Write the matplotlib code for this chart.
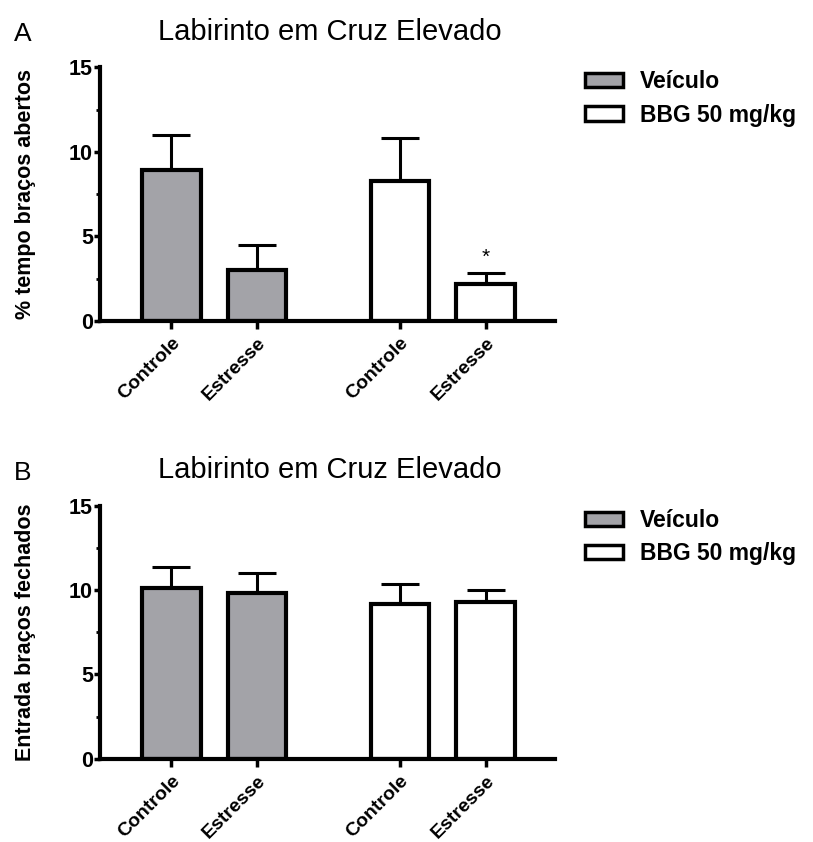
import numpy as np
import matplotlib
matplotlib.use('Agg')
import matplotlib.pyplot as plt
from matplotlib.patches import Patch
from matplotlib.ticker import MultipleLocator

plt.rcParams['font.family'] = ['Liberation Sans', 'DejaVu Sans']

grupos = ['Controle', 'Estresse', 'Controle', 'Estresse']
tratamentos = ['Veículo', 'BBG 50 mg/kg']

# painel A: % tempo bracos abertos
tempo_media = [8.9, 3.0, 8.3, 2.2]
tempo_erro = [2.1, 1.5, 2.5, 0.6]
# painel B: entrada bracos fechados
entrada_media = [10.15, 9.85, 9.2, 9.3]
entrada_erro = [1.25, 1.2, 1.2, 0.7]

pos = [0, 1, 2.66, 3.66]
cores = ['#a3a3a8', '#a3a3a8', 'white', 'white']

fig = plt.figure(figsize=(8.13, 8.42), dpi=100)
axA = fig.add_axes([0.123, 0.619, 0.560, 0.301])
axB = fig.add_axes([0.123, 0.099, 0.560, 0.300])

def painel(ax, media, erro, ylabel, letra):
    ax.bar(pos, media, width=0.68, color=cores, edgecolor='black', linewidth=3, zorder=2)
    ax.errorbar(pos, media, yerr=[np.zeros(4), erro], fmt='none', ecolor='black',
                elinewidth=2.2, capsize=14, capthick=2.2, zorder=1)
    ax.set_xlim(-0.83, 4.47)
    ax.set_ylim(0, 15)
    ax.set_yticks([0, 5, 10, 15])
    ax.yaxis.set_minor_locator(MultipleLocator(2.5))
    ax.set_xticks(pos)
    ax.set_xticklabels(grupos, rotation=45, ha='right', rotation_mode='anchor',
                       fontsize=14, fontweight='bold')
    for lab in ax.get_yticklabels():
        lab.set_fontsize(15.5)
        lab.set_fontweight('bold')
    ax.spines['top'].set_visible(False)
    ax.spines['right'].set_visible(False)
    ax.spines['left'].set_linewidth(3)
    ax.spines['bottom'].set_linewidth(3)
    ax.tick_params(axis='y', which='major', length=4, width=2.5, pad=1)
    ax.tick_params(axis='y', which='minor', length=3, width=2)
    ax.tick_params(axis='x', length=6, width=2.5, pad=4)
    ax.set_ylabel(ylabel, fontsize=15.5, fontweight='bold', labelpad=24)
    ax.set_title('Labirinto em Cruz Elevado', fontsize=21, pad=20, x=0.505)
    ax.text(-0.19, 1.105, letra, transform=ax.transAxes, fontsize=19)
    leg = [Patch(facecolor='#a3a3a8', edgecolor='black', linewidth=2.5, label=tratamentos[0]),
           Patch(facecolor='white', edgecolor='black', linewidth=2.5, label=tratamentos[1])]
    ax.legend(handles=leg, loc='upper left', bbox_to_anchor=(1.02, 1.07), frameon=False,
              prop={'size': 16.5, 'weight': 'bold'}, handlelength=1.65, handleheight=0.6,
              labelspacing=0.45, handletextpad=0.75)

painel(axA, tempo_media, tempo_erro, '% tempo braços abertos', 'A')
painel(axB, entrada_media, entrada_erro, 'Entrada braços fechados', 'B')

axA.text(pos[3], tempo_media[3] + tempo_erro[3] + 0.4, '*', ha='center', va='bottom',
         fontsize=15)

fig.savefig('out.png', dpi=100)
